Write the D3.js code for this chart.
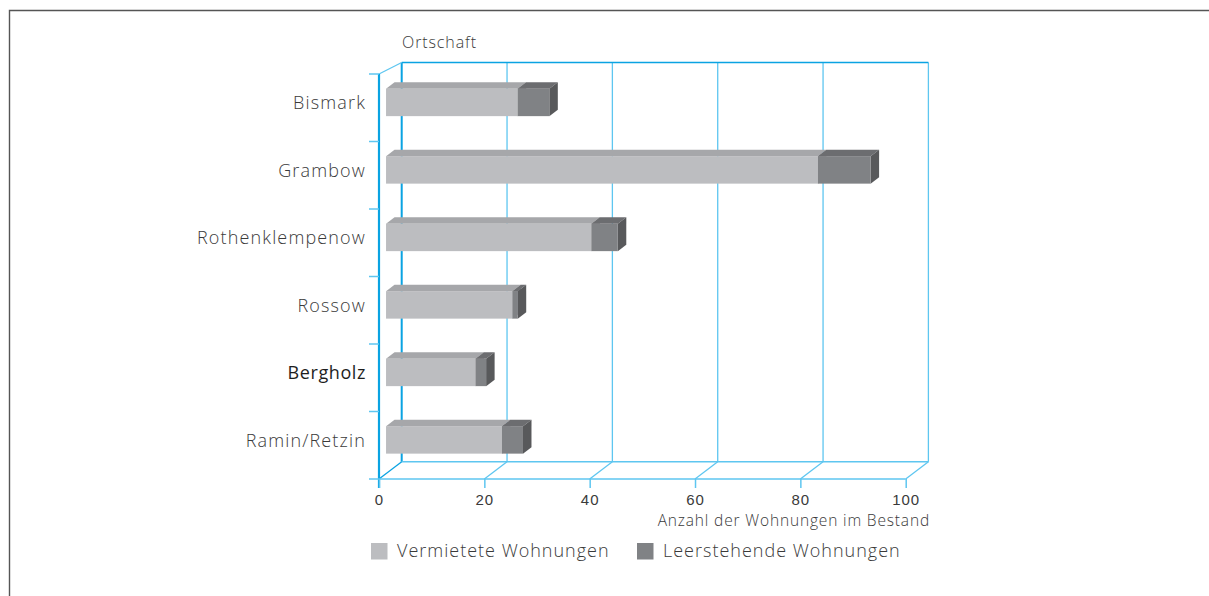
<!DOCTYPE html>
<html>
<head>
<meta charset="utf-8">
<script src="https://cdn.jsdelivr.net/npm/d3@7"></script>
<style>
  body { margin: 0; background: #fff; }
  svg { display: block; font-family: "Open Sans", "Noto Sans", sans-serif; }
</style>
</head>
<body>
<svg id="chart" width="1209" height="596"></svg>
<script>
// Daten
const orte = ["Bismark", "Grambow", "Rothenklempenow", "Rossow", "Bergholz", "Ramin/Retzin"];
const vermietet = [25, 82, 39, 24, 17, 22];
const leerstehend = [6, 10, 5, 1, 2, 4];
const xTicks = [0, 20, 40, 60, 80, 100];
const serien = ["Vermietete Wohnungen", "Leerstehende Wohnungen"];

const width = 1209, height = 596;
const svg = d3.select("#chart");

// Rahmen
svg.append("path")
    .attr("d", `M9.5,${height} V10.5 H${width}`)
    .attr("fill", "none")
    .attr("stroke", "#555")
    .attr("stroke-width", 1.4);

// Skalen (Vorderkante)
const x = d3.scaleLinear().domain([0, 100]).range([379, 905.7]);
const y = d3.scaleBand().domain(orte).range([74, 479]);
const DX = 22.7, DY = -17.3;          // Tiefe der Rückwand
const backTop = 62.5;                  // obere Kante der Rückwand
const y0 = y.range()[1];

const blau = "#0aa3e2", hellblau = "#5ec6f0";
const textFarbe = "#3a3a3a";
const grid = svg.append("g");

// Rückwand: Gitterlinien
grid.selectAll("line.v")
    .data(xTicks)
    .join("line")
    .attr("x1", d => x(d) + DX).attr("x2", d => x(d) + DX)
    .attr("y1", backTop).attr("y2", y0 + DY)
    .attr("stroke", d => d === 0 ? blau : hellblau)
    .attr("stroke-width", d => d === 0 ? 2 : 1.3);
grid.append("line")
    .attr("x1", x(0) + DX).attr("x2", x(100) + DX)
    .attr("y1", backTop).attr("y2", backTop)
    .attr("stroke", blau).attr("stroke-width", 1.6);
grid.append("line")
    .attr("x1", x(0) + DX).attr("x2", x(100) + DX)
    .attr("y1", y0 + DY).attr("y2", y0 + DY)
    .attr("stroke", hellblau).attr("stroke-width", 1.5);
// Boden: Diagonalen
grid.selectAll("line.d")
    .data(xTicks)
    .join("line")
    .attr("x1", d => x(d)).attr("x2", d => x(d) + DX)
    .attr("y1", y0).attr("y2", y0 + DY)
    .attr("stroke", d => d === 0 ? blau : hellblau)
    .attr("stroke-width", 1.3);
// obere Diagonale
grid.append("line")
    .attr("x1", x(0)).attr("x2", x(0) + DX)
    .attr("y1", y.range()[0]).attr("y2", backTop)
    .attr("stroke", hellblau).attr("stroke-width", 1.3);

// Balken
const D0 = 0.31;                       // Position in der Tiefe
const bdx = 8.5, bdy = -6.3;           // Balkentiefe
const faceH = 27.5;
const farben = [
    { front: "#bcbdc0", top: "#a6a7aa", side: "#a0a1a4" },
    { front: "#808285", top: "#6c6d70", side: "#58595b" }
];
const rows = orte.map((o, i) => ({ ort: o, werte: [vermietet[i], leerstehend[i]] }));
const bars = svg.append("g");
rows.forEach(r => {
    const yc = y(r.ort) + y.bandwidth() / 2 + D0 * DY;
    const top = yc - faceH / 2;
    let start = 0;
    r.werte.forEach((v, k) => {
        const x1 = x(start) + D0 * DX, x2 = x(start + v) + D0 * DX;
        const c = farben[k];
        const g = bars.append("g");
        g.append("path")
            .attr("d", `M${x1},${top} L${x1 + bdx},${top + bdy} L${x2 + bdx},${top + bdy} L${x2},${top} Z`)
            .attr("fill", c.top);
        g.append("path")
            .attr("d", `M${x2},${top} L${x2 + bdx},${top + bdy} L${x2 + bdx},${top + faceH + bdy} L${x2},${top + faceH} Z`)
            .attr("fill", c.side);
        g.append("rect")
            .attr("x", x1).attr("y", top)
            .attr("width", x2 - x1).attr("height", faceH)
            .attr("fill", c.front);
        start += v;
    });
});

// vordere Achsen
const achse = svg.append("g");
achse.append("line")
    .attr("x1", x(0)).attr("x2", x(0))
    .attr("y1", y.range()[0]).attr("y2", y0 + 9)
    .attr("stroke", blau).attr("stroke-width", 2.2);
achse.append("line")
    .attr("x1", x(0)).attr("x2", x(100))
    .attr("y1", y0).attr("y2", y0)
    .attr("stroke", hellblau).attr("stroke-width", 1.5);
const grenzen = orte.map(o => y(o)).concat([y0]);
achse.selectAll("line.t")
    .data(grenzen)
    .join("line")
    .attr("x1", x(0) - 10).attr("x2", x(0))
    .attr("y1", d => d).attr("y2", d => d)
    .attr("stroke", hellblau).attr("stroke-width", 1.5);

const xAxis = svg.append("g")
    .attr("transform", `translate(0,${y0})`)
    .call(d3.axisBottom(x).tickValues(xTicks).tickSizeInner(9).tickSizeOuter(0).tickPadding(6));
xAxis.select(".domain").remove();
xAxis.selectAll(".tick line").attr("stroke", hellblau).attr("stroke-width", 1.5);
xAxis.selectAll(".tick text")
    .attr("fill", textFarbe)
    .style("font-size", "15px")
    .style("font-weight", 300)
    .style("letter-spacing", "1px");

// Kategorien
svg.append("g").selectAll("text")
    .data(orte)
    .join("text")
    .attr("x", 366)
    .attr("y", d => y(d) + y.bandwidth() / 2 + 1.5)
    .attr("text-anchor", "end")
    .attr("fill", d => d === "Bergholz" ? "#1e1e1e" : textFarbe)
    .style("font-size", "18px")
    .style("font-weight", d => d === "Bergholz" ? 400 : 300)
    .style("letter-spacing", d => d === "Bergholz" ? "0.6px" : "1.15px")
    .text(d => d);

// Achsentitel
svg.append("text")
    .attr("x", 402).attr("y", 48)
    .attr("fill", textFarbe)
    .style("font-size", "16px")
    .style("font-weight", 300)
    .style("letter-spacing", "0.9px")
    .text("Ortschaft");
svg.append("text")
    .attr("x", 930).attr("y", 526)
    .attr("text-anchor", "end")
    .attr("fill", textFarbe)
    .style("font-size", "15.5px")
    .style("font-weight", 300)
    .style("letter-spacing", "0.85px")
    .text("Anzahl der Wohnungen im Bestand");

// Legende
const legX = [371, 637];
serien.forEach((s, i) => {
    svg.append("rect")
        .attr("x", legX[i]).attr("y", 543)
        .attr("width", 16.5).attr("height", 16.5)
        .attr("fill", farben[i].front);
    svg.append("text")
        .attr("x", legX[i] + 26).attr("y", 557)
        .attr("fill", textFarbe)
        .style("font-size", "18px")
        .style("font-weight", 300)
        .style("letter-spacing", "1px")
        .text(s);
});
</script>
</body>
</html>
